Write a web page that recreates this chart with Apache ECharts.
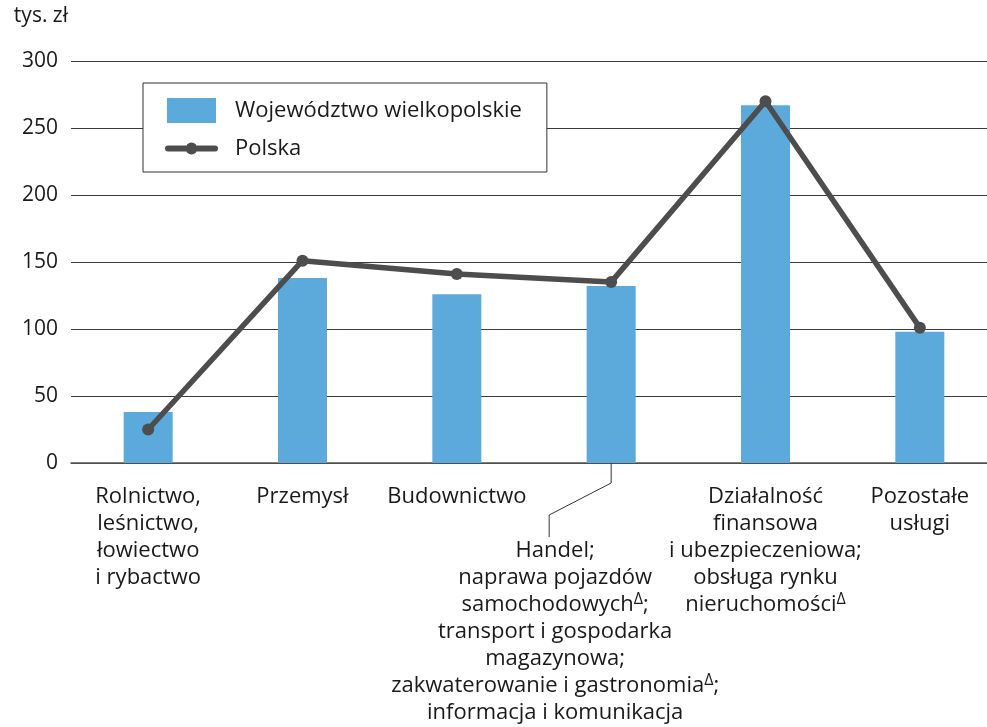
<!DOCTYPE html>
<html>
<head>
<meta charset="utf-8">
<script src="https://cdn.jsdelivr.net/npm/echarts@6/dist/echarts.min.js"></script>
<style>
html,body{margin:0;padding:0;background:#fff;overflow:hidden;}
#chart{width:997px;height:727px;}
</style>
</head>
<body>
<div id="chart"></div>
<script>
// ---- data ----
var categories = [
  'Rolnictwo,\nleśnictwo,\nłowiectwo\ni rybactwo',
  'Przemysł',
  'Budownictwo',
  'Handel;\nnaprawa pojazdów\nsamochodowychΔ;\ntransport i gospodarka\nmagazynowa;\nzakwaterowanie i gastronomiaΔ;\ninformacja i komunikacja',
  'Działalność\nfinansowa\ni ubezpieczeniowa;\nobsługa rynku\nnieruchomościΔ',
  'Pozostałe\nusługi'
];
var wielkopolskie = [38, 138, 126, 132, 267, 98];
var polska = [25, 151, 141, 135, 270, 101];
var yTicks = [0, 50, 100, 150, 200, 250, 300];
var seriesNames = ['Województwo wielkopolskie', 'Polska'];
var unitLabel = 'tys. zł';
var shiftedCategoryIndex = 3;

var FONT = 'Open Sans';
var TXT = '#1a1a1a';
var chart = echarts.init(document.getElementById('chart'), null, {renderer: 'canvas'});

function fmtLabel(value, idx) {
  var lines = value.split('\n').map(function (ln) {
    return ln.replace(/Δ/g, '{sup|Δ}');
  });
  if (idx === shiftedCategoryIndex) {
    lines = lines.map(function (ln) { return ln + '{pad| }'; });
    lines = ['', ''].concat(lines);
  }
  return lines.join('\n');
}

// legend icons (bounds fixed to 53x25 by the leading moveTo points)
var rectIcon = 'path://M0,0M53,25M2,0L51,0L51,25L2,25Z';
var lineIcon = 'path://M0,0M53,25M3,9.5L21,9.5L21,15.5L3,15.5A3,3,0,0,1,3,9.5Z' +
  'M32,9.5L50,9.5A3,3,0,0,1,50,15.5L32,15.5Z' +
  'M20.5,12.5A6,6,0,1,1,32.5,12.5A6,6,0,1,1,20.5,12.5Z';

var option = {
  animation: false,
  textStyle: {fontFamily: FONT},
  grid: {left: 71, right: 0, top: 61, bottom: 264, containLabel: false},
  legend: {
    left: 143, top: 83,
    orient: 'vertical',
    padding: [15, 25, 11, 22],
    itemWidth: 53, itemHeight: 25, itemGap: 13,
    borderColor: '#333', borderWidth: 1, backgroundColor: '#fff',
    textStyle: {fontFamily: FONT, fontSize: 22, color: TXT, padding: [0, 0, 0, 12]},
    data: [
      {name: seriesNames[0], icon: rectIcon, itemStyle: {color: '#5BAADB'}},
      {name: seriesNames[1], icon: lineIcon, itemStyle: {color: '#4d4d4d'}}
    ]
  },
  xAxis: {
    type: 'category',
    data: categories,
    axisTick: {show: false},
    axisLine: {show: true, lineStyle: {color: '#555', width: 1.5}},
    axisLabel: {
      interval: 0,
      margin: 20,
      fontFamily: FONT,
      fontSize: 22,
      lineHeight: 27,
      color: TXT,
      formatter: fmtLabel,
      rich: {
        sup: {fontFamily: FONT, fontSize: 16, lineHeight: 18, verticalAlign: 'top', color: TXT},
        pad: {width: 112, fontSize: 22}
      }
    }
  },
  yAxis: {
    type: 'value',
    min: yTicks[0], max: yTicks[yTicks.length - 1], interval: 50,
    name: unitLabel,
    nameLocation: 'end',
    nameGap: 34,
    nameTextStyle: {fontFamily: FONT, fontSize: 21, color: TXT, align: 'right', padding: [0, 3, 0, 0]},
    axisLine: {show: false},
    axisTick: {show: false},
    axisLabel: {fontFamily: FONT, fontSize: 21, color: TXT, margin: 13},
    splitLine: {lineStyle: {color: '#3a3a3a', width: 1}}
  },
  series: [
    {
      name: seriesNames[0],
      type: 'bar',
      data: wielkopolskie,
      barWidth: 49,
      itemStyle: {color: '#5BAADB'},
      z: 2
    },
    {
      name: seriesNames[1],
      type: 'line',
      data: polska,
      symbol: 'circle',
      symbolSize: 12,
      lineStyle: {color: '#4d4d4d', width: 5.5},
      itemStyle: {color: '#4d4d4d'},
      z: 3
    }
  ]
};
chart.setOption(option);

// leader line for the shifted category label
var p = chart.convertToPixel({xAxisIndex: 0, yAxisIndex: 0}, [shiftedCategoryIndex, 0]);
chart.setOption({
  graphic: [{
    type: 'polyline',
    shape: {points: [[p[0], p[1]], [p[0], p[1] + 20], [p[0] - 62, p[1] + 52], [p[0] - 62, p[1] + 74]]},
    style: {stroke: '#333', lineWidth: 1, fill: null},
    z: 10
  }]
});
</script>
</body>
</html>
